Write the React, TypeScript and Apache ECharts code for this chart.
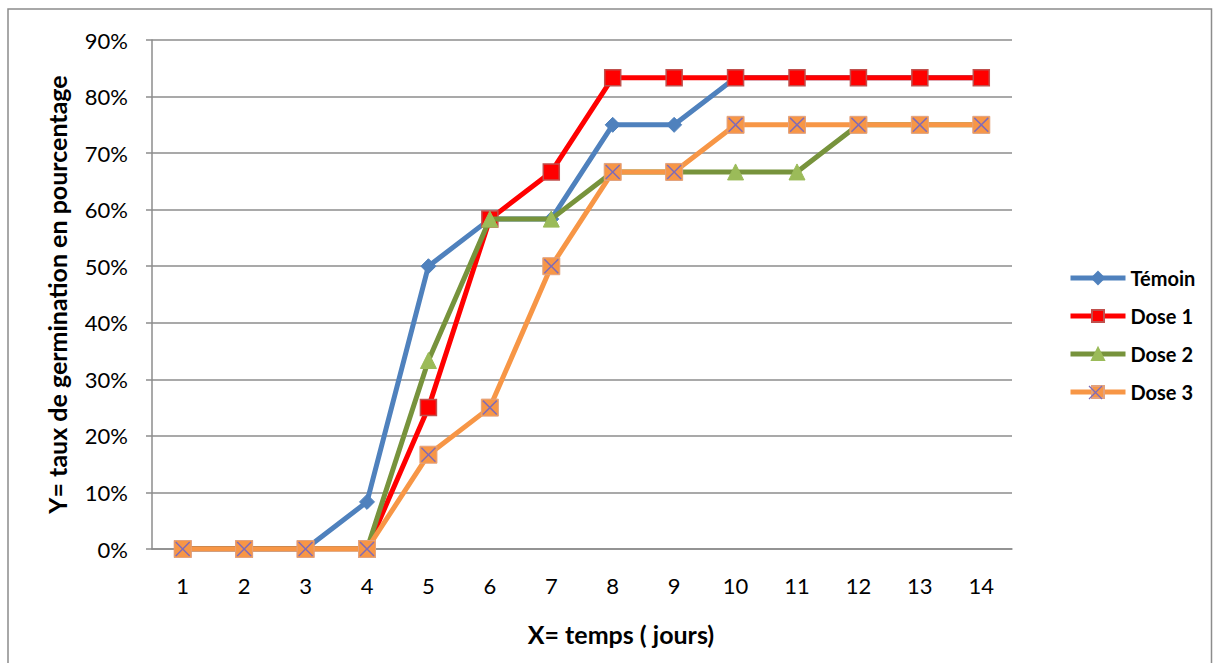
import React, { useEffect, useRef } from "react";
import * as echarts from "echarts";

const days = ["1", "2", "3", "4", "5", "6", "7", "8", "9", "10", "11", "12", "13", "14"];
const temoin = [0, 0, 0, 8.33, 50, 58.33, 58.33, 75, 75, 83.33, 83.33, 83.33, 83.33, 83.33];
const dose1 = [0, 0, 0, 0, 25, 58.33, 66.67, 83.33, 83.33, 83.33, 83.33, 83.33, 83.33, 83.33];
const dose2 = [0, 0, 0, 0, 33.33, 58.33, 58.33, 66.67, 66.67, 66.67, 66.67, 75, 75, 75];
const dose3 = [0, 0, 0, 0, 16.67, 25, 50, 66.67, 66.67, 75, 75, 75, 75, 75];
const seriesNames = ["Témoin", "Dose 1", "Dose 2", "Dose 3"];
const yTicks = { min: 0, max: 90, interval: 10 };

const X_PATH =
  "path://M0,7 L7,0 L50,43 L93,0 L100,7 L57,50 L100,93 L93,100 L50,57 L7,100 L0,93 L43,50 Z";

export default function App() {
  const ref = useRef<HTMLDivElement>(null);
  useEffect(() => {
    const chart = echarts.init(ref.current!, null, { renderer: "svg" });
    const font = "Lato";
    const xc = 1095.5;
    const yc = 392.5;
    const h = 6.5;
    chart.setOption({
      animation: false,
      backgroundColor: "#ffffff",
      textStyle: { fontFamily: font },
      grid: { left: 152, right: 201, top: 40, bottom: 114, containLabel: false },
      legend: {
        data: seriesNames,
        orient: "vertical",
        left: 1063,
        top: 263,
        itemWidth: 55,
        itemHeight: 15,
        itemGap: 18,
        lineStyle: { width: 5 },
        textStyle: { fontFamily: font, fontWeight: "bold", fontSize: 20, color: "#000" },
      },
      xAxis: {
        type: "category",
        data: days,
        boundaryGap: true,
        axisLine: { lineStyle: { color: "#8c8c8c", width: 1.5 } },
        axisTick: { show: false },
        axisLabel: { color: "#000", fontSize: 22, fontFamily: font, margin: 25 },
        name: "X= temps ( jours)",
        nameLocation: "middle",
        nameGap: 72,
        nameTextStyle: {
          color: "#000",
          fontSize: 25,
          fontWeight: "bold",
          fontFamily: font,
          padding: [0, 0, 0, 78],
        },
      },
      yAxis: {
        type: "value",
        min: yTicks.min,
        max: yTicks.max,
        interval: yTicks.interval,
        axisLine: { show: true, lineStyle: { color: "#8c8c8c", width: 1.5 } },
        axisTick: { show: true, length: 6, lineStyle: { color: "#8c8c8c", width: 1.5 } },
        splitLine: { lineStyle: { color: "#8c8c8c", width: 1.5 } },
        axisLabel: { color: "#000", fontSize: 22, fontFamily: font, formatter: "{value}%", margin: 24 },
        name: "Y= taux de germination en pourcentage",
        nameLocation: "middle",
        nameGap: 83,
        nameRotate: 90,
        nameTextStyle: { color: "#000", fontSize: 25, fontWeight: "bold", fontFamily: font },
      },
      series: [
        {
          name: seriesNames[0],
          type: "line",
          data: temoin,
          symbol: "diamond",
          symbolSize: 15,
          lineStyle: { color: "#4F81BD", width: 5 },
          itemStyle: { color: "#4F81BD", borderColor: "#4F81BD", borderWidth: 1 },
          z: 2,
        },
        {
          name: seriesNames[1],
          type: "line",
          data: dose1,
          symbol: "rect",
          symbolSize: 16,
          lineStyle: { color: "#FF0000", width: 5 },
          itemStyle: { color: "#FF0000", borderColor: "#C0504D", borderWidth: 1.5 },
          z: 3,
        },
        {
          name: seriesNames[2],
          type: "line",
          data: dose2,
          symbol: "triangle",
          symbolSize: 16,
          lineStyle: { color: "#77933C", width: 5 },
          itemStyle: { color: "#9BBB59", borderColor: "#9BBB59", borderWidth: 1 },
          z: 4,
        },
        {
          name: seriesNames[3],
          type: "line",
          data: dose3,
          symbol: "rect",
          symbolSize: 17,
          lineStyle: { color: "#F79646", width: 5 },
          itemStyle: { color: "#F79646", borderColor: "#E3A27E", borderWidth: 1 },
          z: 5,
        },
        {
          name: "_x3",
          type: "line",
          data: dose3,
          symbol: X_PATH,
          symbolSize: 15,
          lineStyle: { width: 0, opacity: 0 },
          itemStyle: { color: "#7F6BB8" },
          silent: true,
          z: 6,
        },
      ],
      graphic: [
        {
          type: "rect",
          shape: { x: 8, y: 9, width: 1203.5, height: 700 },
          style: { fill: "none", stroke: "#8c8c8c", lineWidth: 1.5 },
          silent: true,
          z: -1,
        },
        {
          type: "line",
          shape: { x1: xc - h, y1: yc - h, x2: xc + h, y2: yc + h },
          style: { stroke: "#7F6BB8", lineWidth: 1.3 },
          silent: true,
          z: 100,
        },
        {
          type: "line",
          shape: { x1: xc - h, y1: yc + h, x2: xc + h, y2: yc - h },
          style: { stroke: "#7F6BB8", lineWidth: 1.3 },
          silent: true,
          z: 100,
        },
      ],
    });
    return () => chart.dispose();
  }, []);
  return (
    <div
      ref={ref}
      style={{ position: "absolute", left: 0, top: 0, width: 1213, height: 663 }}
    />
  );
}
